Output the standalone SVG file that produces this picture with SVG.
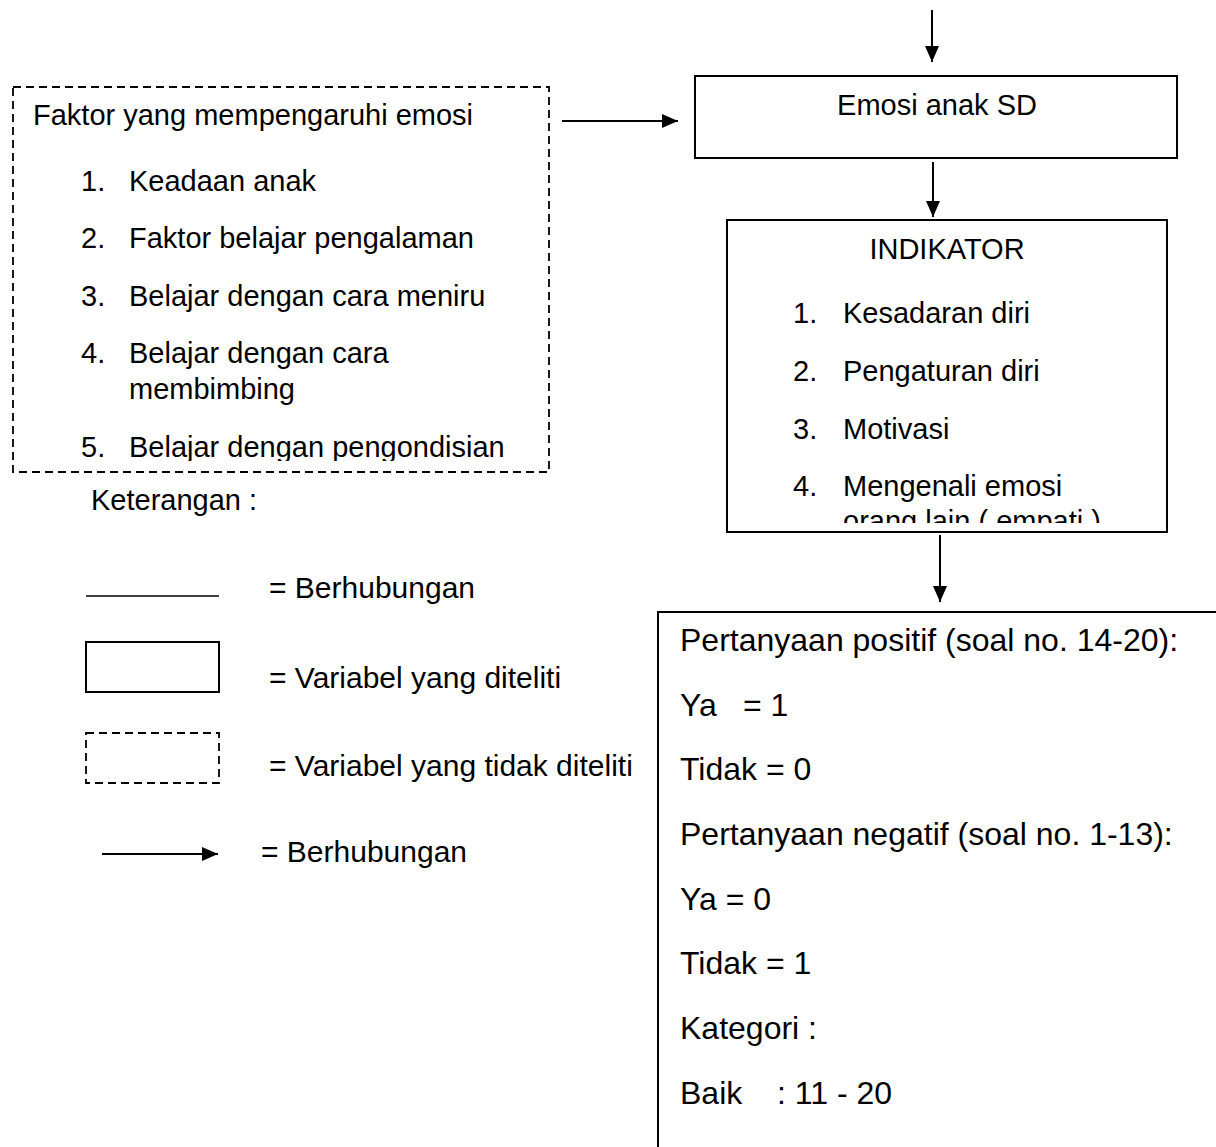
<svg xmlns="http://www.w3.org/2000/svg" width="1216" height="1147" viewBox="0 0 1216 1147">
<style>
text{font-family:"Liberation Sans",Arial,sans-serif;fill:#000}
.t29{font-size:29px}
.t30{font-size:30px}
.t32{font-size:32px}
.box{fill:#fff;stroke:#000;stroke-width:2}
.dash{fill:none;stroke:#000;stroke-width:1.8;stroke-dasharray:8 5}
.ln{fill:none;stroke:#000;stroke-width:2}
.arr{fill:none;stroke:#000;stroke-width:2;marker-end:url(#ah)}
</style>
<defs>
<marker id="ah" viewBox="0 0 16 14" refX="16" refY="7" markerWidth="16" markerHeight="14" markerUnits="userSpaceOnUse" orient="auto">
<path d="M0,0 L16,7 L0,14 z" fill="#000"/>
</marker>
<clipPath id="clipL"><rect x="13" y="87" width="536" height="374"/></clipPath>
<clipPath id="clipI"><rect x="727" y="220" width="440" height="303"/></clipPath>
</defs>
<rect width="1216" height="1147" fill="#fff"/>

<g id="faktor">
<rect class="dash" x="13" y="87" width="536" height="385"/>
<g clip-path="url(#clipL)" class="t29">
<text x="33" y="125">Faktor yang mempengaruhi emosi</text>
<text x="81" y="191">1.</text><text x="129" y="191">Keadaan anak</text>
<text x="81" y="248">2.</text><text x="129" y="248">Faktor belajar pengalaman</text>
<text x="81" y="306">3.</text><text x="129" y="306">Belajar dengan cara meniru</text>
<text x="81" y="363">4.</text><text x="129" y="363">Belajar dengan cara</text>
<text x="129" y="399">membimbing</text>
<text x="81" y="457">5.</text><text x="129" y="457">Belajar dengan pengondisian</text>
</g>
</g>

<g id="emosi">
<rect class="box" x="695" y="76" width="482" height="82"/>
<text class="t29" x="937" y="115" text-anchor="middle">Emosi anak SD</text>
</g>

<g id="indikator">
<rect class="box" x="727" y="220" width="440" height="312"/>
<text class="t29" x="947" y="259" text-anchor="middle">INDIKATOR</text>
<g clip-path="url(#clipI)" class="t29">
<text x="793" y="323">1.</text><text x="843" y="323">Kesadaran diri</text>
<text x="793" y="381">2.</text><text x="843" y="381">Pengaturan diri</text>
<text x="793" y="439">3.</text><text x="843" y="439">Motivasi</text>
<text x="793" y="496">4.</text><text x="843" y="496">Mengenali emosi</text>
<text x="843" y="531">orang lain ( empati )</text>
</g>
</g>

<g id="skor">
<path class="ln" d="M658,1147 V612 H1216"/>
<g class="t32">
<text x="680" y="651">Pertanyaan positif (soal no. 14-20):</text>
<text x="680" y="716">Ya<tspan x="743">= 1</tspan></text>
<text x="680" y="780">Tidak = 0</text>
<text x="680" y="845">Pertanyaan negatif (soal no. 1-13):</text>
<text x="680" y="910">Ya = 0</text>
<text x="680" y="974">Tidak = 1</text>
<text x="680" y="1039">Kategori :</text>
<text x="680" y="1104">Baik<tspan x="777">: 11 - 20</tspan></text>
</g>
</g>

<g id="connectors">
<line class="arr" x1="932" y1="10" x2="932" y2="62"/>
<line class="arr" x1="562" y1="121" x2="678" y2="121"/>
<line class="arr" x1="933" y1="162" x2="933" y2="217"/>
<line class="arr" x1="940" y1="535" x2="940" y2="602"/>
</g>

<g id="keterangan">
<text class="t29" x="91" y="510">Keterangan :</text>
<line x1="86" y1="596" x2="219" y2="596" stroke="#000" stroke-width="1.6"/>
<text class="t30" x="269" y="598">= Berhubungan</text>
<rect class="box" x="86" y="642" width="133" height="50"/>
<text class="t30" x="269" y="688">= Variabel yang diteliti</text>
<rect class="dash" x="86" y="733" width="133" height="50"/>
<text class="t30" x="269" y="776">= Variabel yang tidak diteliti</text>
<line class="arr" x1="102" y1="854" x2="218" y2="854"/>
<text class="t30" x="261" y="862">= Berhubungan</text>
</g>
</svg>
